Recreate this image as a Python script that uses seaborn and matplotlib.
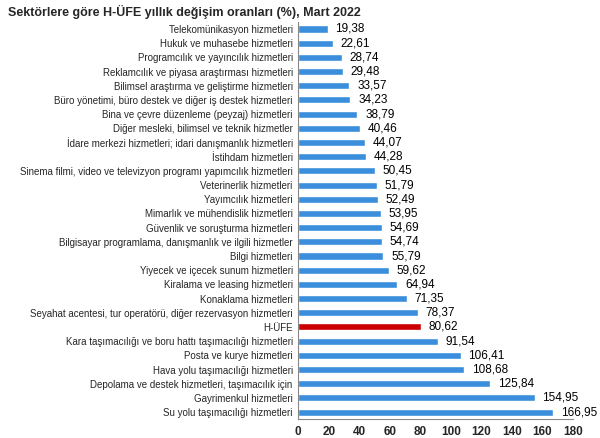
import pandas as pd
import seaborn as sns
import matplotlib.pyplot as plt

# Sector names and annual change (%), March 2022
sectors = [
    "Telekomünikasyon hizmetleri",
    "Hukuk ve muhasebe hizmetleri",
    "Programcılık ve yayıncılık hizmetleri",
    "Reklamcılık ve piyasa araştırması hizmetleri",
    "Bilimsel araştırma ve geliştirme hizmetleri",
    "Büro yönetimi, büro destek ve diğer iş destek hizmetleri",
    "Bina ve çevre düzenleme (peyzaj) hizmetleri",
    "Diğer mesleki, bilimsel ve teknik hizmetler",
    "İdare merkezi hizmetleri; idari danışmanlık hizmetleri",
    "İstihdam hizmetleri",
    "Sinema filmi, video ve televizyon programı yapımcılık hizmetleri",
    "Veterinerlik hizmetleri",
    "Yayımcılık hizmetleri",
    "Mimarlık ve mühendislik hizmetleri",
    "Güvenlik ve soruşturma hizmetleri",
    "Bilgisayar programlama, danışmanlık ve ilgili hizmetler",
    "Bilgi hizmetleri",
    "Yiyecek ve içecek sunum hizmetleri",
    "Kiralama ve leasing hizmetleri",
    "Konaklama hizmetleri",
    "Seyahat acentesi, tur operatörü, diğer rezervasyon hizmetleri",
    "H-ÜFE",
    "Kara taşımacılığı ve boru hattı taşımacılığı hizmetleri",
    "Posta ve kurye hizmetleri",
    "Hava yolu taşımacılığı hizmetleri",
    "Depolama ve destek hizmetleri, taşımacılık için",
    "Gayrimenkul hizmetleri",
    "Su yolu taşımacılığı hizmetleri",
]
rates = [19.38, 22.61, 28.74, 29.48, 33.57, 34.23, 38.79, 40.46, 44.07, 44.28,
         50.45, 51.79, 52.49, 53.95, 54.69, 54.74, 55.79, 59.62, 64.94, 71.35,
         78.37, 80.62, 91.54, 106.41, 108.68, 125.84, 154.95, 166.95]

df = pd.DataFrame({"sector": sectors, "rate": rates})
colors = ["#cc0000" if s == "H-ÜFE" else "#3a8edb" for s in sectors]

sns.set_style("white")
plt.rcParams['font.family'] = ['Liberation Sans', 'DejaVu Sans']

fig = plt.figure(figsize=(6, 4.38), dpi=100)
ax = fig.add_axes([0.497, 0.043, 0.458, 0.907])

sns.barplot(data=df, y="sector", x="rate", hue="sector", palette=colors,
            legend=False, width=0.5, ax=ax, saturation=1)

# value labels with comma decimals
for i, v in enumerate(rates):
    ax.text(v + 5, i, f"{v:.2f}".replace(".", ","), va="center", ha="left",
            fontsize=8.5, color="black")

ax.set_xlim(0, 180)
ax.set_xticks(range(0, 181, 20))
ax.set_xlabel("")
ax.set_ylabel("")
ax.tick_params(axis="x", labelsize=8.5, length=3, direction="out", pad=2)
ax.tick_params(axis="y", labelsize=7, length=0, pad=4)
for t in ax.get_xticklabels():
    t.set_fontweight("bold")
sns.despine(ax=ax, top=True, right=True)
ax.spines["left"].set_color("#888888")
ax.spines["bottom"].set_color("#888888")
ax.spines["left"].set_linewidth(0.8)
ax.spines["bottom"].set_linewidth(0.8)

fig.text(0.013, 0.972, "Sektörlere göre H-ÜFE yıllık değişim oranları (%), Mart 2022",
         fontsize=9, fontweight="bold", va="center", ha="left")

plt.savefig("out.png", dpi=100)
